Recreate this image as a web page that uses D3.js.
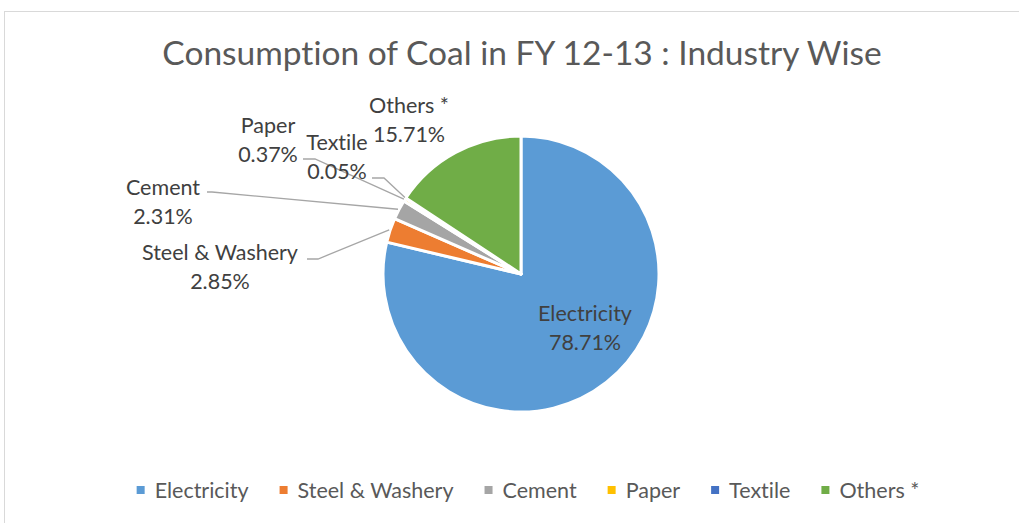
<!DOCTYPE html>
<html>
<head>
<meta charset="utf-8">
<script src="https://cdn.jsdelivr.net/npm/d3@7"></script>
<style>
  body { margin: 0; background: #fff; }
  text { font-family: Lato, "Open Sans", sans-serif; font-variant-ligatures: none; }
</style>
</head>
<body>
<div id="chart"></div>
<script>
var categories = ["Electricity", "Steel & Washery", "Cement", "Paper", "Textile", "Others *"];
var shares = [78.71, 2.85, 2.31, 0.37, 0.05, 15.71];
var colors = ["#5B9BD5", "#ED7D31", "#A5A5A5", "#FFC000", "#4472C4", "#70AD47"];
var title = "Consumption of Coal in FY 12-13 : Industry Wise";

var wi = 1019, he = 523;
var cx = 521, cy = 274, radius = 138;

// where each data label sits (centre x, first baseline) and its leader elbow
var labelPos = {
  "Electricity":     { x: 585, y: 321, elbow: null },
  "Steel & Washery": { x: 220, y: 260, elbow: [[307, 259], [318, 259]] },
  "Cement":          { x: 163, y: 195, elbow: [[207, 192], [212, 192]] },
  "Paper":           { x: 268, y: 133, elbow: [[303, 159], [315, 159]] },
  "Textile":         { x: 337, y: 150, elbow: [[372, 178], [384, 178]] },
  "Others *":        { x: 409, y: 113, elbow: null }
};

var svg = d3.select("#chart").append("svg")
    .attr("width", wi)
    .attr("height", he);

svg.append("rect")
    .attr("x", 4.5).attr("y", 11.5)
    .attr("width", 1100).attr("height", 600)
    .attr("fill", "#fff")
    .attr("stroke", "#d9d9d9");

svg.append("text")
    .attr("x", 522).attr("y", 65)
    .attr("text-anchor", "middle")
    .attr("fill", "#595959")
    .style("font-size", "33.5px")
    .text(title);

var data = categories.map(function(c, i) { return { name: c, value: shares[i], color: colors[i] }; });

var pie = d3.pie().sort(null).value(function(d) { return d.value; });
var arc = d3.arc().innerRadius(0).outerRadius(radius);
var arcs = pie(data);

var g = svg.append("g").attr("transform", "translate(" + cx + "," + cy + ")");

g.selectAll("path")
    .data(arcs)
    .enter()
    .append("path")
    .attr("d", arc)
    .attr("fill", function(d) { return d.data.color; })
    .attr("stroke", "#fff")
    .attr("stroke-width", 3)
    .attr("stroke-linejoin", "round");

// leader lines
arcs.forEach(function(a) {
  var p = labelPos[a.data.name];
  if (!p.elbow) return;
  var mid = (a.startAngle + a.endAngle) / 2;
  var end = [cx + (radius + 1) * Math.sin(mid), cy - (radius + 1) * Math.cos(mid)];
  var pts = p.elbow.concat([end]);
  svg.append("path")
      .attr("d", d3.line()(pts))
      .attr("fill", "none")
      .attr("stroke", "#a6a6a6")
      .attr("stroke-width", 1.3);
});

// data labels
arcs.forEach(function(a) {
  var p = labelPos[a.data.name];
  var t = svg.append("text")
      .attr("text-anchor", "middle")
      .attr("fill", "#404040")
      .style("font-size", "21.5px");
  t.append("tspan").attr("x", p.x).attr("y", p.y).text(a.data.name);
  t.append("tspan").attr("x", p.x).attr("y", p.y + 29).text(d3.format(".2f")(a.data.value) + "%");
});

// legend
var legend = svg.append("g");
var lx = 0;
data.forEach(function(d) {
  var item = legend.append("g").attr("transform", "translate(" + lx + ",0)");
  item.append("rect")
      .attr("x", 0).attr("y", -12)
      .attr("width", 8).attr("height", 8)
      .attr("fill", d.color);
  var t = item.append("text")
      .attr("x", 18).attr("y", 0)
      .attr("fill", "#595959")
      .style("font-size", "21.5px")
      .text(d.name);
  lx += 18 + t.node().getComputedTextLength() + 31;
});
lx -= 31;
legend.attr("transform", "translate(" + (528 - lx / 2) + ",498)");
</script>
</body>
</html>
